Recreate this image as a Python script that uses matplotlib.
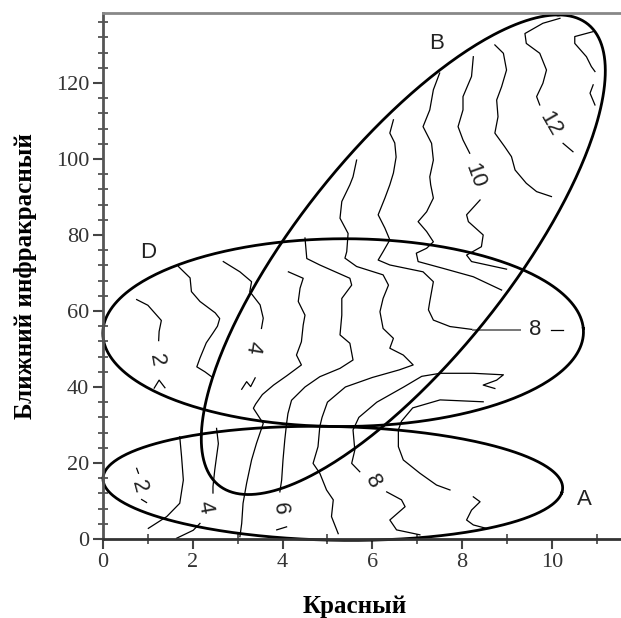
import numpy as np
import matplotlib.pyplot as plt

# ---- ellipses: centre, two conjugate half axes (data units) ----
ell_names = ['A', 'B', 'D']
ell_centre = [(5.12, 14.65), (6.69, 74.8), (5.35, 54.3)]
ell_u = [(5.1, -2.5), (3.45, 63.1), (5.35, 1.1)]
ell_v = [(0.45, 14.8), (2.89, 0.0), (-0.2, 24.68)]
ell_label_x = [10.73, 7.44, 1.0]
ell_label_y = [10.3, 130.5, 75.3]

# ---- isolines (x = red, y = near infrared) ----
line_d2 = [(0.75, 63), (1.0, 61.5), (1.3, 57.5), (1.25, 54.6), (1.24, 52.2)]
line_d2_tail = [(1.14, 39.7), (1.25, 41.8), (1.38, 39.8)]
line_d3 = [(1.68, 71.7), (1.94, 68.7), (1.97, 65.1), (2.16, 62.5), (2.5, 59.5), (2.6, 58),
           (2.55, 56), (2.45, 54.2), (2.3, 51.6), (2.16, 47.6), (2.09, 45.3), (2.27, 44), (2.43, 42.6)]
line_d4 = [(2.68, 73), (3.05, 70.3), (3.31, 67.7), (3.27, 65.1), (3.5, 61.6), (3.57, 58.1), (3.53, 55.4)]
line_d4_tail = [(3.09, 39.4), (3.2, 41.4), (3.29, 40.1), (3.39, 42.4)]
line_m0 = [(4.13, 70.3), (4.46, 68.6), (4.39, 66), (4.35, 62.5), (4.5, 58.9), (4.46, 56.3), (4.42, 51.9),
           (4.31, 48.4), (4.42, 45.8), (4.1, 43), (3.8, 40.5), (3.55, 38), (3.4, 35.5), (3.35, 34.4),
           (3.57, 30.4), (3.42, 25.2), (3.31, 20.8), (3.2, 14.7), (3.12, 9.4), (3.09, 4.1), (3.05, 0.6)]
line_m1 = [(4.5, 79.2), (4.54, 73.8), (4.83, 72.1), (5.5, 68.6), (5.54, 66.8), (5.32, 63.3), (5.32, 58.9),
           (5.28, 53.7), (5.5, 51.5), (5.57, 47.1), (5.28, 44.9), (4.83, 42.7), (4.5, 40), (4.2, 36.5),
           (4.12, 33), (4.09, 30.4), (4.05, 26.1), (4.01, 20.8), (3.98, 15.5), (3.94, 12.4)]
line_m1_tail = [(3.87, 2.4), (4.09, 3.2)]
line_l4 = [(5.65, 99.7), (5.57, 95.3), (5.5, 93.2), (5.32, 88.8), (5.28, 84.4), (5.46, 80.4), (5.43, 75.6),
           (5.39, 73.9), (5.65, 71.7), (6.24, 69.5), (6.36, 66.8), (6.24, 63.3), (6.17, 59.8), (6.24, 55.4),
           (6.47, 52.8), (6.39, 50.2), (6.69, 48.4), (6.91, 45.8), (6.6, 44.5), (6.0, 42.5), (5.4, 40),
           (5.0, 36), (4.88, 32), (4.83, 29.6), (4.79, 24.3), (4.68, 19.9), (4.83, 17.3), (4.98, 12.9),
           (5.13, 10.3), (5.09, 5.9), (5.24, 1.4)]
line_l5 = [(6.47, 110.3), (6.39, 106.8), (6.5, 104.2), (6.53, 100.5), (6.47, 96.3), (6.39, 93.2), (6.28, 89.7),
           (6.13, 85.3), (6.28, 81.8), (6.39, 78.7), (6.24, 75.6), (6.13, 73.4), (6.39, 72.1), (7.13, 70.3),
           (7.36, 67.7), (7.28, 62.5), (7.25, 60.3), (7.36, 57.6), (7.73, 55.9), (8.25, 55.1)]
line_l5_grey = [(8.25, 55.1), (9.29, 55.1)]
line_l5_tail = [(9.99, 55.1), (10.25, 55.1)]
line_l6 = [(7.5, 122.6), (7.36, 118.2), (7.28, 112.9), (7.13, 108.5), (7.32, 104.1), (7.36, 99.7), (7.28, 95.3),
           (7.3, 93.2), (7.36, 89.7), (7.21, 86.1), (7.02, 83.5), (7.21, 80.9), (7.36, 78.2), (7.21, 76.5),
           (6.98, 75.2), (7.02, 73), (7.58, 71.2), (8.25, 69), (8.88, 65.5)]
line_l7 = [(8.25, 126.9), (8.21, 121.7), (8.02, 116.4), (8.02, 112.9), (7.91, 108.5), (8.02, 105), (8.17, 101.5)]
line_l7_tail = [(8.4, 89.2), (8.1, 85.3), (8.14, 83.5), (8.47, 80), (8.43, 76.9), (8.1, 74.7), (8.21, 73), (8.99, 71)]
line_l8 = [(8.73, 130), (8.92, 127.8), (8.99, 123.4), (8.88, 119), (8.77, 115.5), (8.8, 111.1), (8.73, 106.8),
           (8.95, 103.2), (9.1, 100.6), (9.18, 97.1), (9.43, 93.6), (9.66, 91.4), (9.99, 90.1)]
line_l9 = [(10.18, 137), (9.8, 135.7), (9.4, 133), (9.43, 130.4), (9.73, 127.8), (9.88, 123.4), (9.8, 119.9),
           (9.66, 116.4), (9.73, 114.2)]
line_l9_tail = [(10.25, 104.1), (10.47, 101.9)]
line_l10a = [(10.92, 133.5), (10.51, 132.2), (10.51, 130.4), (10.77, 126.9), (10.88, 124.3), (10.96, 123)]
line_l10b = [(10.92, 119.5), (10.85, 117.3), (10.96, 114.2)]
line_a2 = [(0.75, 18.6), (0.79, 17.3)]
line_a2_tail = [(0.86, 10.4), (0.97, 9.6)]
line_a1 = [(1.71, 26.9), (1.75, 21.7), (1.79, 15.5), (1.71, 9.4), (1.42, 5.9), (1.01, 2.8)]
line_a4 = [(2.53, 29.1), (2.57, 25.1), (2.53, 21.7), (2.49, 18.2), (2.45, 13.8), (2.45, 12.1)]
line_a4_tail = [(2.16, 4.1), (2.01, 2.3), (1.64, 0.2)]
line_a8 = [(8.73, 39.6), (8.47, 40.5), (8.77, 41.8), (8.92, 43.2), (8.25, 43.6), (7.51, 43.6), (7.1, 42.8),
           (6.7, 40), (6.1, 36), (5.7, 32), (5.57, 28.7), (5.61, 23.4), (5.54, 19.9), (5.72, 17.7)]
line_a8_tail = [(6.32, 12.4), (6.65, 10.3), (6.73, 8.5), (6.39, 5), (6.54, 2.4), (7.06, 1.1)]
line_a9 = [(8.47, 36.1), (7.51, 36.6), (6.9, 34.5), (6.65, 31), (6.58, 28.7), (6.58, 24.3), (6.69, 20.8),
           (7.06, 17.3), (7.43, 14.2), (7.73, 12.9)]
line_a10 = [(8.25, 11.1), (8.4, 9.8), (8.21, 7.6), (8.1, 5), (8.25, 3.7), (8.54, 2.8)]

black_lines = [line_d2, line_d2_tail, line_d3, line_d4, line_d4_tail, line_m0, line_m1, line_m1_tail,
               line_l4, line_l5, line_l5_tail, line_l6, line_l7, line_l7_tail, line_l8, line_l9,
               line_l9_tail, line_l10a, line_l10b, line_a2, line_a2_tail, line_a1, line_a4, line_a4_tail,
               line_a8, line_a8_tail, line_a9, line_a10]
grey_lines = [line_l5_grey]

# isoline labels
lab_text = ['2', '4', '10', '12', '8', '2', '4', '6', '8']
lab_x = [1.2, 3.33, 8.27, 9.97, 9.62, 0.8, 2.27, 3.93, 6.02]
lab_y = [47.1, 50.5, 95.5, 109.3, 55.1, 13.8, 8.5, 8.0, 15.1]
lab_rot = [-80, -100, -70, -60, 0, -75, -80, -85, -60]

fig = plt.figure(figsize=(6.21, 6.18), dpi=100)
ax = fig.add_axes([103 / 621, 1 - 539 / 618, 1 - 103 / 621, (539 - 13) / 618])

for ln in black_lines:
    xy = np.array(ln)
    ax.plot(xy[:, 0], xy[:, 1], color='black', lw=0.9, solid_joinstyle='round')
for ln in grey_lines:
    xy = np.array(ln)
    ax.plot(xy[:, 0], xy[:, 1], color='#777777', lw=1.4)

t = np.linspace(0, 2 * np.pi, 400)
for c, u, v in zip(ell_centre, ell_u, ell_v):
    ex = c[0] + u[0] * np.cos(t) + v[0] * np.sin(t)
    ey = c[1] + u[1] * np.cos(t) + v[1] * np.sin(t)
    ax.plot(ex, ey, color='black', lw=2.0, clip_on=False)

for name, lx, ly in zip(ell_names, ell_label_x, ell_label_y):
    ax.text(lx, ly, name, fontsize=16, family='Liberation Sans', color='#222222',
            ha='center', va='center')

for s, lx, ly, r in zip(lab_text, lab_x, lab_y, lab_rot):
    ax.text(lx, ly, s, fontsize=16, family='Liberation Sans', color='#222222',
            ha='center', va='center', rotation=r)

ax.set_xlim(0, 11.54)
ax.set_ylim(0, 138.4)
ax.set_xticks(np.arange(0, 11, 2))
ax.set_xticks(np.arange(1, 12, 2), minor=True)
ax.set_yticks(np.arange(0, 121, 20))
ax.set_yticks(np.arange(0, 137, 4), minor=True)
ax.tick_params(which='major', direction='out', length=7, width=1.5, color='#444444',
               labelsize=16, labelcolor='#333333', pad=3)
ax.tick_params(which='minor', direction='inout', length=7, width=1.2, color='#444444')
for lab in ax.get_xticklabels() + ax.get_yticklabels():
    lab.set_family('Liberation Serif')

ax.spines['right'].set_visible(False)
ax.spines['left'].set_color('#555555')
ax.spines['bottom'].set_color('#333333')
ax.spines['top'].set_color('#888888')
for sp in ['left', 'bottom', 'top']:
    ax.spines[sp].set_linewidth(2)

fig.text(355 / 621, 1 - 606 / 618, 'Красный', family='Liberation Serif', fontweight='bold',
         fontsize=18, ha='center', va='center')
fig.text(26 / 621, 1 - 276 / 618, 'Ближний инфракрасный', family='Liberation Serif',
         fontweight='bold', fontsize=18, ha='center', va='center', rotation=90)

fig.savefig('out.png', dpi=100)
